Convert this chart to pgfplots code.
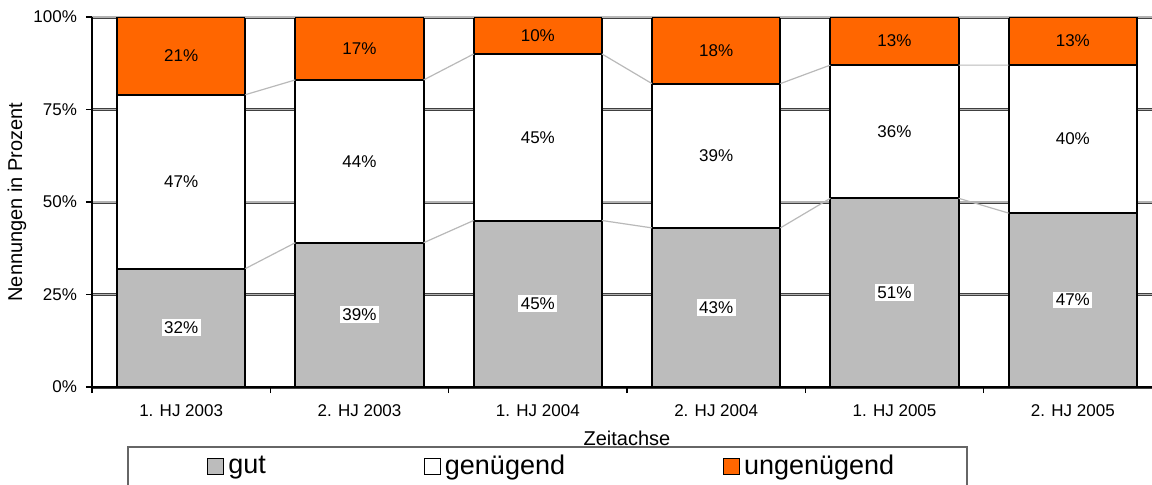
\documentclass[border=0pt]{standalone}
\usepackage{fontspec}
\setmainfont{Liberation Sans}
\usepackage{pgfplots}
\pgfplotsset{compat=1.18}
\definecolor{ung}{RGB}{255,102,0}
\definecolor{gutc}{RGB}{188,188,188}
\begin{document}
\begin{tikzpicture}
\begin{axis}[
  at={(0,0)}, anchor=south west, scale only axis, width=535pt, height=185pt,
  xmin=-0.5, xmax=5.5, ymin=0, ymax=100,
  ybar stacked, bar width=0.72,
  axis lines*=left, axis line style={black, line width=0.6pt},
  xtick={-0.5,0.5,...,5.5}, xticklabels={},
  extra x ticks={0,1,2,3,4,5},
  extra x tick labels={1. HJ 2003, 2. HJ 2003, 1. HJ 2004, 2. HJ 2004, 1. HJ 2005, 2. HJ 2005},
  extra x tick style={major tick length=0pt, grid=none, xticklabel style={yshift=-5.5pt}},
  ytick={0,25,50,75,100},
  yticklabel={\pgfmathprintnumber[assume math mode=true]{\tick}\%},
  yticklabel style={xshift=-1pt},
  tick align=outside, major tick length=3pt, tick style={black, line width=0.6pt},
  ymajorgrids, grid style={draw=black!75, line width=0.45pt, double=black!30, double distance=0.6pt},
  ticklabel style={font=\fontsize{8.5}{10}\selectfont},
  xlabel={Zeitachse}, ylabel={Nennungen in Prozent},
  label style={font=\fontsize{8.5}{10}\selectfont},
  every axis x label/.style={at={(axis description cs:0.5,-0.1378)}, anchor=center},
  every axis y label/.style={at={(axis description cs:-0.0701,0.5)}, rotate=90, anchor=center},
  legend style={at={(axis description cs:0.1075,-0.2135)}, anchor=west, draw=none, fill=none,
    inner sep=0pt, font=\fontsize{13.5}{15}\selectfont,
    /tikz/every even column/.append style={column sep=77pt}},
  legend columns=3,
  legend image code/.code={\draw[#1, line width=0.5pt] (0pt,-4pt) rectangle (8pt,4pt);},
]
\addplot[draw=black, line width=1pt, fill=gutc] coordinates {(0,32) (1,39) (2,45) (3,43) (4,51) (5,47)};
\addlegendentry{gut}
\addplot[draw=black, line width=1pt, fill=white] coordinates {(0,47) (1,44) (2,45) (3,39) (4,36) (5,40)};
\addlegendentry{genügend}
\addplot[draw=black, line width=1pt, fill=ung] coordinates {(0,21) (1,17) (2,10) (3,18) (4,13) (5,13)};
\addlegendentry{ungenügend}
\end{axis}
\begin{axis}[
  at={(0,0)}, anchor=south west, scale only axis, width=535pt, height=185pt,
  xmin=-0.5, xmax=5.5, ymin=0, ymax=100, hide axis, clip=false,
  every node near coord/.style={font=\fontsize{8.5}{10}\selectfont, text=black, inner sep=1.2pt},
]
\addplot[gray!55, line width=0.6pt, unbounded coords=jump, mark=none] coordinates {
 (0.36,32) (0.64,39) (1,nan) (1.36,39) (1.64,45) (2,nan) (2.36,45) (2.64,43) (3,nan)
 (3.36,43) (3.64,51) (4,nan) (4.36,51) (4.64,47)};
\addplot[gray!55, line width=0.6pt, unbounded coords=jump, mark=none] coordinates {
 (0.36,79) (0.64,83) (1,nan) (1.36,83) (1.64,90) (2,nan) (2.36,90) (2.64,82) (3,nan)
 (3.36,82) (3.64,87) (4,nan) (4.36,87) (4.64,87)};
\addplot[gray!55, line width=0.9pt, unbounded coords=jump, mark=none] coordinates {
 (0.36,100) (0.64,100) (1,nan) (1.36,100) (1.64,100) (2,nan) (2.36,100) (2.64,100) (3,nan)
 (3.36,100) (3.64,100) (4,nan) (4.36,100) (4.64,100)};
\addplot[draw=none, mark=none, nodes near coords, nodes near coords align=center,
  point meta=explicit symbolic, every node near coord/.append style={fill=white}] coordinates {
 (0,16)[32\%] (1,19.5)[39\%] (2,22.5)[45\%] (3,21.5)[43\%] (4,25.5)[51\%] (5,23.5)[47\%]};
\addplot[draw=none, mark=none, nodes near coords, nodes near coords align=center,
  point meta=explicit symbolic] coordinates {
 (0,55.5)[47\%] (1,61)[44\%] (2,67.5)[45\%] (3,62.5)[39\%] (4,69)[36\%] (5,67)[40\%]};
\addplot[draw=none, mark=none, nodes near coords, nodes near coords align=center,
  point meta=explicit symbolic] coordinates {
 (0,89.5)[21\%] (1,91.5)[17\%] (2,95)[10\%] (3,91)[18\%] (4,93.5)[13\%] (5,93.5)[13\%]};
\end{axis}
\draw[black!60, line width=0.6pt] (18pt,-30pt) rectangle (437.5pt,-70pt);
\pgfresetboundingbox
\useasboundingbox (-46pt,-48.5pt) rectangle (530pt,193.5pt);
\end{tikzpicture}
\end{document}
